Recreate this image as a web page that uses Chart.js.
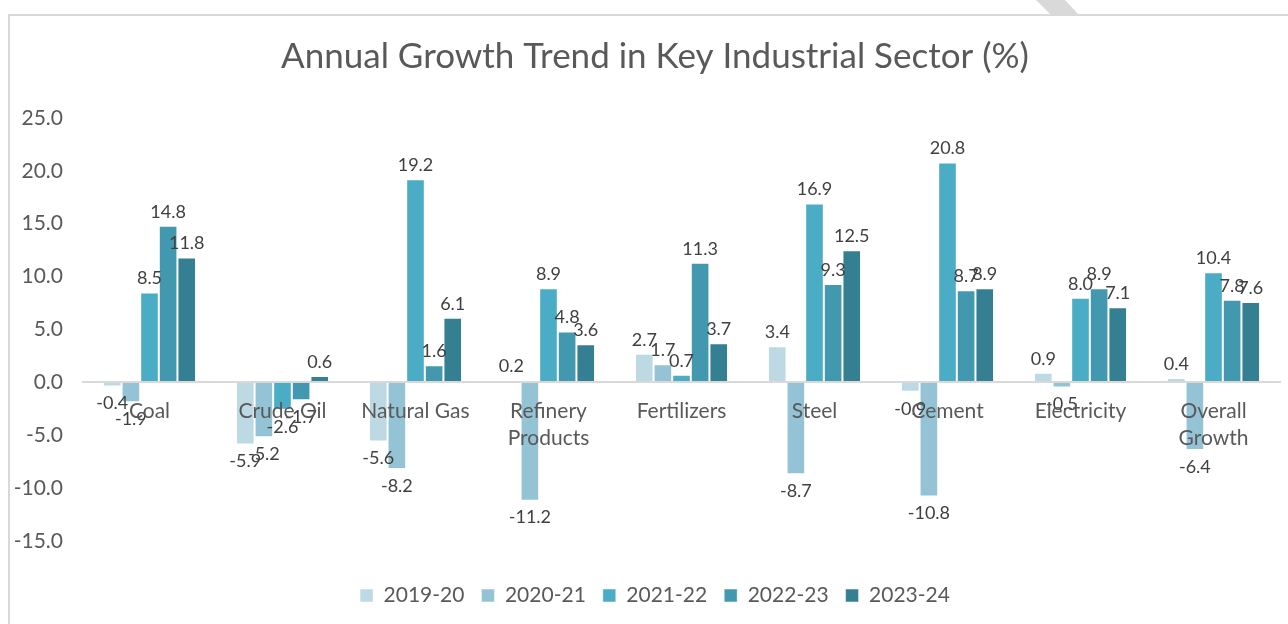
<!DOCTYPE html>
<html>
<head>
<meta charset="utf-8">
<script src="https://cdn.jsdelivr.net/npm/chart.js@4.4.1/dist/chart.umd.min.js"></script>
<style>
  body { margin: 0; background: #fff; width: 1288px; height: 624px; overflow: hidden; position: relative; }
  #frame {
    position: absolute; left: 8px; top: 14px; width: 1280px; height: 610px;
    border-left: 2px solid #d9d9d9; border-top: 2px solid #d9d9d9; box-sizing: border-box;
  }
  #slash {
    position: absolute; left: 1036px; top: 0; width: 42px; height: 14px; background: #d9d9d9;
    clip-path: polygon(0 0, 29px 0, 42px 14px, 14px 14px);
  }
</style>
</head>
<body>
<div id="slash"></div>
<div id="frame">
  <canvas id="grafica" width="1278" height="608"></canvas>
</div>
<script>
// Datos de la gráfica
var sectores = ['Coal', 'Crude Oil', 'Natural Gas', ['Refinery', 'Products'], 'Fertilizers', 'Steel', 'Cement', 'Electricity', ['Overall', 'Growth']];
var anios = ['2019-20', '2020-21', '2021-22', '2022-23', '2023-24'];
var y2019 = [-0.4, -5.9, -5.6, 0.2, 2.7, 3.4, -0.9, 0.9, 0.4];
var y2020 = [-1.9, -5.2, -8.2, -11.2, 1.7, -8.7, -10.8, -0.5, -6.4];
var y2021 = [8.5, -2.6, 19.2, 8.9, 0.7, 16.9, 20.8, 8.0, 10.4];
var y2022 = [14.8, -1.7, 1.6, 4.8, 11.3, 9.3, 8.7, 8.9, 7.8];
var y2023 = [11.8, 0.6, 6.1, 3.6, 3.7, 12.5, 8.9, 7.1, 7.6];
var colores = ['#bdd9e3', '#93c3d5', '#4bacc6', '#4298af', '#357f93'];

var fuente = 'Lato, "Open Sans", sans-serif';

// Plugin para dibujar los valores sobre las barras
var etiquetas = {
  id: 'etiquetas',
  afterDatasetsDraw: function (chart) {
    var ctx = chart.ctx;
    ctx.save();
    ctx.font = '18px ' + fuente;
    ctx.fillStyle = '#404040';
    ctx.textAlign = 'center';
    chart.data.datasets.forEach(function (ds, i) {
      chart.getDatasetMeta(i).data.forEach(function (bar, j) {
        var v = ds.data[j];
        if (v >= 0) {
          ctx.textBaseline = 'bottom';
          ctx.fillText(v.toFixed(1), bar.x, bar.y - 5);
        } else {
          ctx.textBaseline = 'top';
          ctx.fillText(v.toFixed(1), bar.x, bar.y + 8);
        }
      });
    });
    ctx.restore();
  }
};

var series = [y2019, y2020, y2021, y2022, y2023];

var grafica = new Chart(document.getElementById('grafica').getContext('2d'), {
  type: 'bar',
  data: {
    labels: sectores,
    datasets: series.map(function (d, i) {
      return {
        label: anios[i],
        data: d,
        backgroundColor: colores[i],
        borderColor: 'rgba(255,255,255,0.5)',
        borderWidth: 1,
        barPercentage: 1.0,
        categoryPercentage: 0.7
      };
    })
  },
  options: {
    responsive: false,
    animation: false,
    layout: { padding: { left: 20, right: 8, top: 0, bottom: 8 } },
    plugins: {
      title: {
        display: true,
        text: 'Annual Growth Trend in Key Industrial Sector (%)',
        color: '#595959',
        font: { family: fuente, size: 35, weight: 'normal' },
        padding: { top: 20, bottom: 40 }
      },
      legend: {
        position: 'bottom',
        title: { display: true, text: '', font: { size: 1 }, padding: { top: 26, bottom: 0 } },
        labels: {
          color: '#595959',
          font: { family: fuente, size: 21 },
          boxWidth: 13,
          boxHeight: 13,
          padding: 17
        }
      },
      tooltip: { enabled: false }
    },
    scales: {
      x: {
        position: { y: 0 },
        grid: { display: false },
        border: { display: true, color: '#d9d9d9', width: 2, z: 1 },
        ticks: {
          z: 2,
          color: '#595959',
          font: { family: fuente, size: 21, lineHeight: 1.3 },
          padding: 7,
          maxRotation: 0,
          autoSkip: false
        }
      },
      y: {
        min: -15,
        max: 25,
        grid: { display: false },
        border: { display: false },
        ticks: {
          stepSize: 5,
          color: '#595959',
          font: { family: fuente, size: 21 },
          padding: 12,
          callback: function (v) { return Number(v).toFixed(1); }
        },
        afterFit: function (s) {
          s.width = 53;
          // que las etiquetas largas no se recorten
          s._computeLabelArea = function () { return undefined; };
        }
      }
    }
  },
  plugins: [etiquetas]
});
</script>
</body>
</html>
